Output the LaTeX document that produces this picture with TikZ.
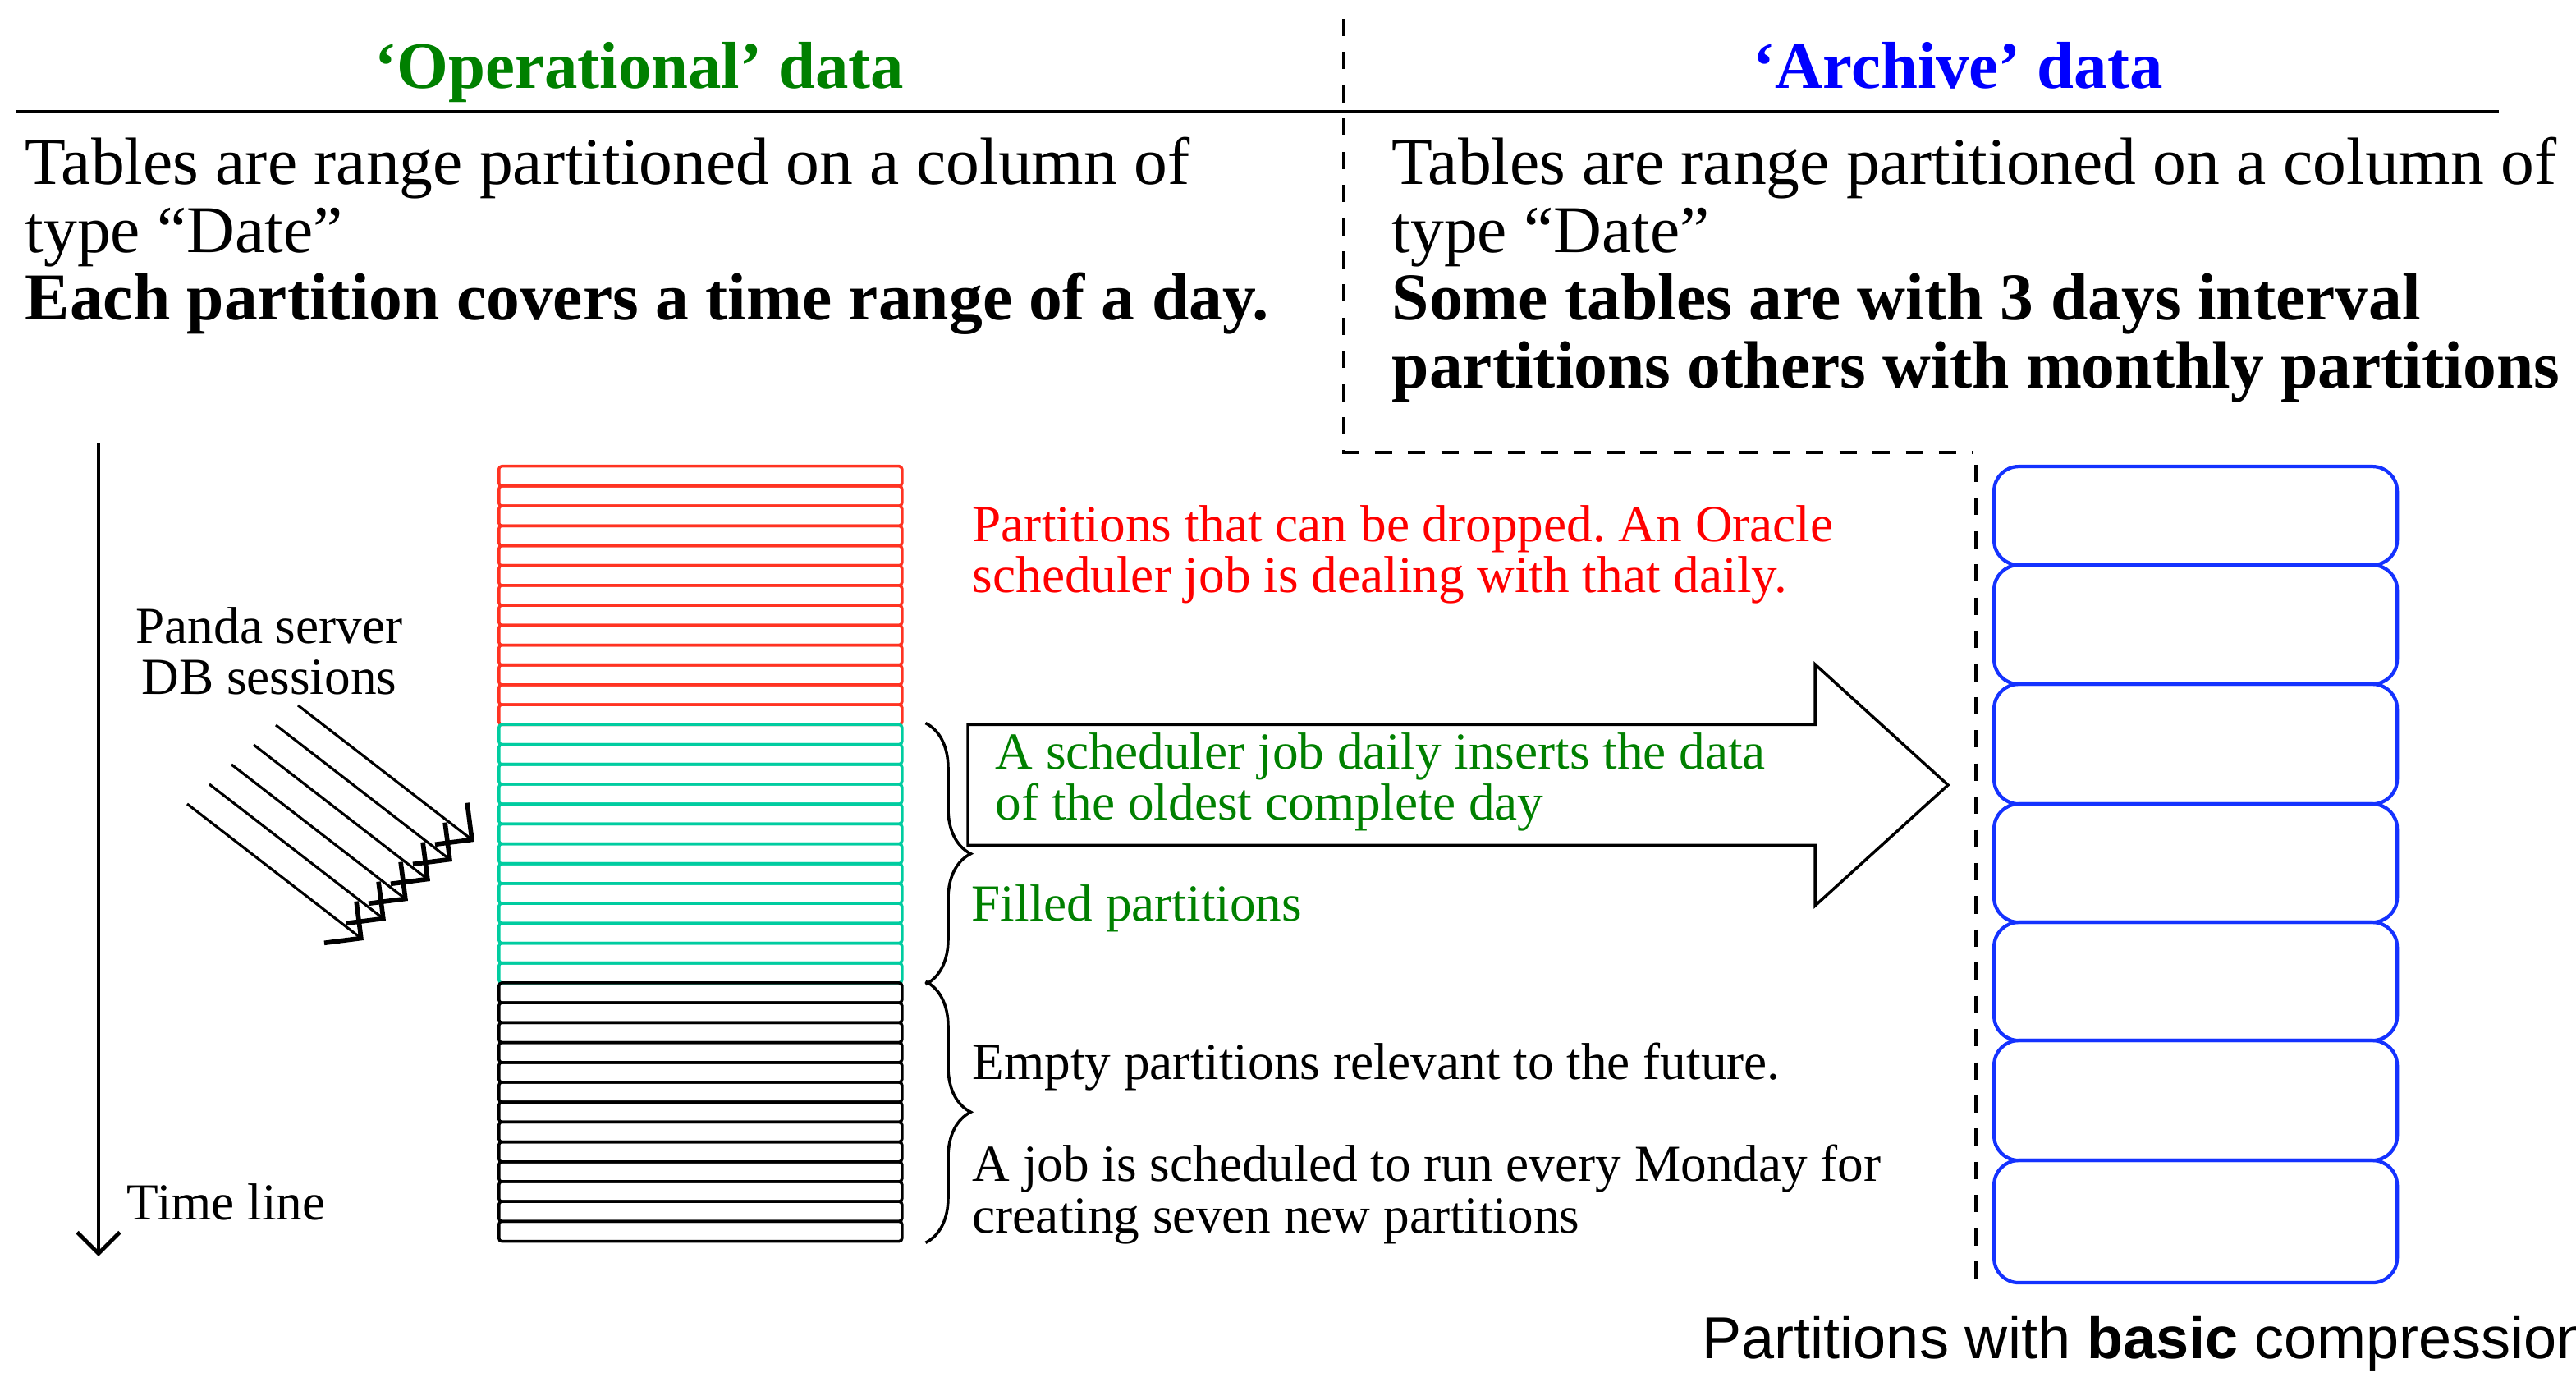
\documentclass[tikz,border=0pt]{standalone}
\usepackage{fontspec}
\setmainfont{Liberation Serif}
\setsansfont{Liberation Sans}
\usepackage{xcolor}
\usetikzlibrary{arrows.meta, decorations.pathreplacing, calc}
\frenchspacing

\definecolor{opgreen}{RGB}{0,128,0}
\definecolor{arblue}{RGB}{0,0,255}
\definecolor{droprd}{RGB}{255,51,34}
\definecolor{filltq}{RGB}{0,204,160}
\definecolor{boxbl}{RGB}{20,50,255}

\begin{document}
\begin{tikzpicture}[
  big/.style={font=\fontsize{23.2}{23.6}\selectfont, align=left, inner sep=0pt, anchor=north west},
  small/.style={font=\fontsize{18}{17.8}\selectfont, align=left, inner sep=0pt, anchor=north west},
  head/.style={font=\fontsize{23}{24}\selectfont\bfseries, inner sep=0pt, anchor=base},
  part/.style={rectangle, rounded corners=1pt, line width=1pt, minimum width=4.91cm,
    minimum height=0.242cm, inner sep=0pt, anchor=north west},
  arcb/.style={rectangle, rounded corners=0.3cm, draw=boxbl, line width=1.2pt,
    minimum width=4.91cm, inner sep=0pt, anchor=north west},
  sess/.style={-{Straight Barb[length=3.2mm,width=6.4mm,line width=1.6pt]}, line width=0.9pt},
  brc/.style={decorate, decoration={brace, amplitude=0.55cm, aspect=0.5}, line width=1pt},
  sepline/.style={dash pattern=on 6pt off 5.5pt, line width=1.3pt}
]
\useasboundingbox (0,0) rectangle (31.38,16.72);

%% Headings and rule
\node[head, text=opgreen] (hop) at (7.79,15.64) {‘Operational’ data};
\node[head, text=arblue]  (har) at (23.85,15.64) {‘Archive’ data};
\draw[line width=1.2pt] (0.20,15.36) -- (30.44,15.36);

%% Column texts
\node[big] (opdesc) at (0.30,15.06) {Tables are range partitioned on a column of\\
  type “Date”\\ \textbf{Each partition covers a time range of a day.}};
\node[big] (ardesc) at (16.95,15.06) {Tables are range partitioned on a column of\\
  type “Date”\\ \textbf{Some tables are with 3 days interval}\\
  \textbf{partitions others with monthly partitions}};

%% Dashed separators
\draw[sepline] (16.37,16.49) -- (16.37,11.21) -- (24.03,11.21);
\draw[sepline] (24.07,11.06) -- (24.07,1.12);

%% Partition stack (13 dropped, 13 filled, 13 empty)
\foreach \i in {0,...,38}{
  \ifnum\i<13 \def\pc{droprd}\else\ifnum\i<26 \def\pc{filltq}\else\def\pc{black}\fi\fi
  \node[part, draw=\pc] (p\i) at (6.06,11.06-0.242*\i) {};
}

%% Braces
\draw[brc] ($(p13.north east)+(0.27,0)$) -- ($(p25.south east)+(0.27,0)$);
\draw[brc] ($(p26.north east)+(0.27,0)$) -- ($(p38.south east)+(0.27,0)$);

%% Big arrow to the archive
\draw[line width=1pt] (11.79,7.895) -- (22.11,7.895) -- (22.11,8.63) -- (23.73,7.16)
  -- (22.11,5.69) -- (22.11,6.425) -- (11.79,6.425) -- cycle;

%% Notes next to the stack
\node[small, text=red] (dropnote) at (11.84,10.575) {Partitions that can be dropped. An Oracle\\
  scheduler job is dealing with that daily.};
\node[small, text=opgreen] (insnote) at (12.12,7.805) {A scheduler job daily inserts the data\\
  of the oldest complete day};
\node[small, text=opgreen] (fillnote) at (11.83,5.955) {Filled partitions};
\node[small] (emptynote) at (11.84,4.025) {Empty partitions relevant to the future.};
\node[small] (jobnote) at (11.84,2.785) {A job is scheduled to run every Monday for\\
  creating seven new partitions};

%% Sessions
\node[small, align=center, anchor=north] (panda) at (3.28,9.335) {Panda server\\ DB sessions};
\foreach \k in {0,...,5}{
  \coordinate (s\k) at (3.63-0.27*\k,8.13-0.24*\k);
  \draw[sess] (s\k) -- ++(2.15,-1.66);
}

%% Time line
\coordinate (tl0) at (1.20,11.32);
\coordinate (tl1) at (1.20,1.42);
\draw[-{Straight Barb[length=2.6mm,width=5.2mm,line width=1.4pt]}, line width=1pt] (tl0) -- (tl1);
\node[small] (tlabel) at (1.54,2.315) {Time line};

%% Archive partitions
\foreach \y/\h [count=\k] in {11.06/1.20, 9.86/1.45, 8.41/1.46, 6.95/1.44,
  5.51/1.44, 4.07/1.46, 2.61/1.49}{
  \node[arcb, minimum height=\h cm] (a\k) at (24.27,\y) {};
}
\node[font=\sffamily\fontsize{20.5}{22}\selectfont, inner sep=0pt, anchor=base west] (cmp)
  at (20.73,0.17) {Partitions with \textbf{basic} compression};

\end{tikzpicture}
\end{document}
